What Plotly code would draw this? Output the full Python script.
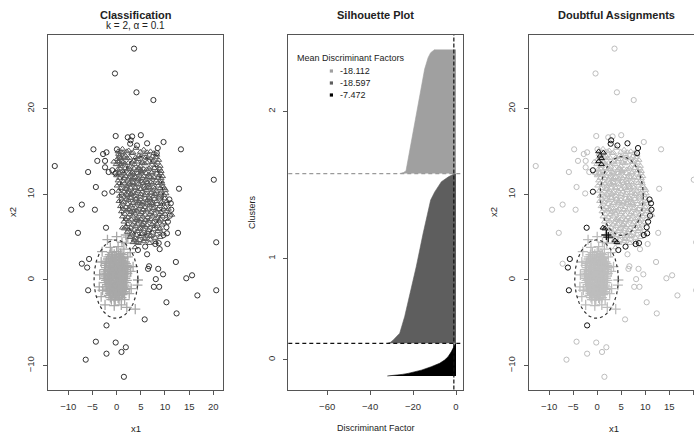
import numpy as np
import plotly.graph_objects as go

W, H = 694, 434

# ---------------- data ----------------
# Trimmed observations (circles, pch 1)
out_x = [3.6, -0.35, 4.1, 7.6, -0.2, 2.3, 3.2, 5.0, 9.7, 13.3, -4.8, 0.06, -2.8, -2.1, -4.0, -2.4,
         -12.8, -2.4, -5.9, -1.65, -0.2, -4.3, -2.5, -7.2, -9.4, -4.5, -8.0, 12.9, 20.1, 12.7, 20.6,
         -7.2, 6.7, 6.5, 8.6, 9.6, 8.1, 12.25, 7.7, 8.8, 14.4, 15.6, 20.6, 16.7, 10.3, 12.4, 5.8,
         -4.3, -0.2, 1.9, 1.0, -2.1, -6.4, 1.5, 6.3, 8.9, 10.5]
out_y = [27.0, 24.1, 21.9, 21.0, 16.8, 16.65, 16.75, 16.9, 16.1, 15.25, 15.25, 15.25, 14.7, 14.9, 13.9, 13.9,
         13.3, 13.15, 12.6, 12.6, 12.45, 10.85, 10.1, 8.8, 8.2, 8.2, 5.5, 10.65, 11.7, 5.5, 4.4,
         1.9, 1.6, 1.3, 1.3, 0.66, 0.1, 2.1, -0.8, -0.8, 0.2, 0.55, -1.2, -1.8, -2.6, -3.9, -4.6,
         -7.2, -7.3, -7.85, -8.4, -8.6, -9.3, -11.3, 3.0, 3.6, 4.2]
# Trimmed observations flagged as doubtful
outd_x = [2.9, 2.8, 4.2, 6.3, 8.5, 8.3, -0.9, -0.9, -2.2, -5.7, -6.1, -5.9, -2.1, 4.4, 5.9, 8.0, 8.7,
          9.7, 10.4, 10.9, 11.2, 11.3, 11.0, 10.6, 10.3]
outd_y = [16.3, 15.9, 15.7, 15.95, 15.4, 14.8, 12.8, 10.3, 6.1, 2.45, 1.45, -1.2, -5.3, 3.5, 3.9, 4.2, 4.3,
          5.25, 5.45, 9.4, 8.95, 8.2, 7.5, 6.8, 6.15]

# Cluster 1 (triangles)
c1_x = [1.2, 2.5, 4.0, 5.6, 7.0,
        0.4, 1.8, 3.1, 4.6, 5.9, 7.4, 8.3,
        0.1, 1.1, 2.2, 3.5, 4.4, 5.3, 6.4, 7.6, 8.7,
        -0.1, 0.8, 1.7, 2.8, 3.7, 4.9, 5.8, 6.9, 8.0, 9.0,
        0.2, 1.3, 2.3, 3.2, 4.2, 5.2, 6.2, 7.3, 8.4, 9.2,
        0.0, 0.9, 1.9, 2.8, 3.8, 4.7, 5.6, 6.6, 7.7, 8.8, 9.5,
        0.3, 1.4, 2.4, 3.3, 4.3, 5.2, 6.1, 7.1, 8.2, 9.3,
        0.1, 1.0, 2.0, 2.9, 3.8, 4.8, 5.7, 6.6, 7.6, 8.6, 9.6,
        0.4, 1.5, 2.5, 3.4, 4.4, 5.3, 6.2, 7.2, 8.2, 9.2, 10.1,
        0.6, 1.6, 2.2, 3.0, 3.9, 4.9, 5.8, 6.7, 7.7, 8.8, 9.8,
        0.5, 1.4, 2.4, 3.5, 4.5, 5.4, 6.3, 7.3, 8.3, 9.3, 10.4,
        0.8, 1.9, 2.9, 3.9, 4.9, 5.8, 6.8, 7.8, 8.9, 10.0,
        1.0, 2.0, 3.0, 4.1, 5.1, 6.1, 7.1, 8.1, 9.2, 10.2,
        1.2, 2.3, 3.3, 4.3, 5.4, 6.4, 7.4, 8.4, 9.5,
        1.5, 2.5, 3.6, 4.6, 5.6, 6.6, 7.6, 8.7, 9.8,
        1.8, 2.9, 3.9, 4.9, 5.9, 6.9, 7.9, 9.0,
        2.2, 3.3, 4.3, 5.3, 6.3, 7.4, 8.5, 9.4,
        2.8, 3.8, 4.8, 5.8, 6.9, 8.0, 9.0,
        3.4, 4.5, 5.6, 6.8, 8.1,
        3.0, 4.0, 5.0, 6.0, 4.6, 5.5, 3.6, 6.5, 4.2, 5.0, 3.2, 6.9, 2.7, 7.0, 4.5, 5.9, 2.0, 7.9,
        3.5, 6.2, 4.8, 5.4, 2.6, 7.4,
        -0.6, -0.4, 11.4, 3.8]
c1_y = [15.3, 15.1, 15.4, 15.2, 15.0,
        14.7, 14.5, 14.8, 14.5, 14.7, 14.4, 14.6,
        14.1, 13.9, 14.2, 13.9, 14.1, 13.8, 14.2, 13.9, 14.0,
        13.5, 13.3, 13.6, 13.2, 13.5, 13.3, 13.6, 13.2, 13.4, 13.3,
        12.9, 12.7, 12.9, 12.6, 12.8, 12.7, 12.9, 12.6, 12.8, 12.7,
        12.2, 12.3, 12.1, 12.3, 12.0, 12.3, 12.1, 12.3, 12.0, 12.2, 12.1,
        11.6, 11.5, 11.7, 11.4, 11.6, 11.5, 11.7, 11.4, 11.6, 11.5,
        11.0, 11.1, 10.9, 11.1, 10.8, 11.1, 10.9, 11.1, 10.8, 11.0, 10.9,
        10.4, 10.3, 10.5, 10.2, 10.4, 10.3, 10.5, 10.2, 10.4, 10.3, 10.5,
        9.8, 9.7, 9.9, 9.6, 9.8, 9.7, 9.9, 9.6, 9.8, 9.7, 9.9,
        9.2, 9.1, 9.3, 9.0, 9.2, 9.1, 9.3, 9.0, 9.2, 9.1, 9.2,
        8.6, 8.5, 8.7, 8.4, 8.6, 8.5, 8.7, 8.4, 8.6, 8.5,
        8.0, 8.1, 7.9, 8.1, 7.9, 8.1, 7.9, 8.1, 7.9, 8.0,
        7.4, 7.3, 7.5, 7.2, 7.4, 7.3, 7.5, 7.2, 7.4,
        6.8, 6.9, 6.7, 6.9, 6.7, 6.9, 6.7, 6.9, 6.7,
        6.2, 6.1, 6.3, 6.0, 6.2, 6.1, 6.3, 6.0,
        5.6, 5.5, 5.7, 5.4, 5.6, 5.5, 5.7, 5.4,
        5.0, 4.9, 5.1, 4.9, 5.1, 4.9, 5.0,
        4.4, 4.3, 4.5, 4.3, 4.4,
        10.0, 9.4, 10.6, 9.0, 11.8, 8.2, 8.0, 10.8, 7.0, 12.8, 11.8, 12.0, 8.2, 9.4, 13.0, 7.0, 10.6, 10.0,
        12.4, 11.4, 9.0, 6.4, 11.2, 8.8,
        13.8, 12.5, 7.6, 3.8]
# Cluster 1, further points of the dense core
c1b_x = [0.9, 2.1, 3.4, 4.9, 6.3, 7.7,
         0.6, 1.5, 2.7, 3.9, 5.0, 6.0, 7.0, 8.1,
         0.4, 1.3, 2.4, 3.2, 4.2, 5.3, 6.3, 7.4, 8.5,
         0.7, 1.8, 2.7, 3.6, 4.6, 5.6, 6.7, 7.8, 8.9,
         0.5, 1.4, 2.4, 3.3, 4.3, 5.1, 6.1, 7.2, 8.3, 9.1,
         0.6, 1.6, 2.5, 3.5, 4.4, 5.3, 6.3, 7.4, 8.5, 9.2,
         0.6, 1.6, 2.6, 3.5, 4.5, 5.5, 6.4, 7.4, 8.5, 9.4,
         0.8, 1.9, 2.9, 3.9, 4.9, 5.9, 6.9, 7.9, 9.0, 9.9,
         1.0, 2.0, 3.0, 4.0, 5.0, 6.0, 7.0, 8.0, 9.1, 10.2,
         1.0, 2.0, 2.9, 4.0, 4.9, 5.9, 6.8, 7.8, 8.8, 9.9,
         1.2, 2.3, 3.3, 4.3, 5.3, 6.3, 7.3, 8.4, 9.5, 10.5,
         1.4, 2.4, 3.4, 4.5, 5.5, 6.5, 7.5, 8.6, 9.7, 10.7,
         1.7, 2.7, 3.8, 4.8, 5.9, 6.9, 7.9, 8.9, 10.0,
         1.9, 3.0, 4.0, 5.0, 6.0, 7.0, 8.0, 9.1, 10.2,
         2.3, 3.3, 4.3, 5.3, 6.3, 7.3, 8.3, 9.4,
         2.5, 3.6, 4.6, 5.6, 6.6, 7.7, 8.8,
         3.0, 4.1, 5.1, 6.1, 7.1, 8.3,
         3.6, 4.7, 5.8, 7.0]
c1b_y = [14.9, 15.0, 14.85, 14.95, 14.9, 14.8,
         14.3, 14.35, 14.25, 14.3, 14.4, 14.3, 14.2, 14.3,
         13.7, 13.75, 13.65, 13.7, 13.8, 13.65, 13.7, 13.75, 13.7,
         13.0, 13.05, 12.95, 13.0, 13.1, 12.95, 13.0, 13.05, 13.0,
         12.45, 12.5, 12.4, 12.5, 12.45, 12.55, 12.45, 12.5, 12.4, 12.45,
         11.9, 11.85, 11.95, 11.9, 11.8, 11.9, 11.95, 11.85, 11.9, 11.85,
         11.3, 11.25, 11.35, 11.3, 11.2, 11.3, 11.35, 11.25, 11.3, 11.25,
         10.7, 10.65, 10.75, 10.7, 10.6, 10.7, 10.75, 10.65, 10.7, 10.7,
         10.1, 10.05, 10.15, 10.1, 10.0, 10.1, 10.15, 10.05, 10.1, 10.1,
         9.5, 9.45, 9.55, 9.5, 9.4, 9.5, 9.55, 9.45, 9.5, 9.5,
         8.9, 8.85, 8.95, 8.9, 8.8, 8.9, 8.95, 8.85, 8.9, 8.9,
         8.3, 8.25, 8.35, 8.3, 8.2, 8.3, 8.35, 8.25, 8.3, 8.3,
         7.7, 7.65, 7.75, 7.7, 7.6, 7.7, 7.75, 7.65, 7.7,
         7.1, 7.05, 7.15, 7.1, 7.0, 7.1, 7.15, 7.05, 7.1,
         6.5, 6.45, 6.55, 6.5, 6.4, 6.5, 6.55, 6.45,
         5.9, 5.85, 5.95, 5.9, 5.8, 5.9, 5.95,
         5.3, 5.25, 5.35, 5.3, 5.2, 5.3,
         4.7, 4.65, 4.75, 4.7]
c1d_x = [0.3, 0.6, 0.9, 0.3, 1.3, 0.9, 1.2, 1.6, 3.7, 4.1]
c1d_y = [15.0, 14.5, 14.2, 13.85, 14.85, 13.5, 6.1, 6.0, 4.6, 4.4]

# Cluster 2 (crosses)
c2_x = [-1.0, 0.0, 0.8,
        -1.7, -0.9, -0.1, 0.7, 1.4,
        -2.1, -1.3, -0.5, 0.3, 1.0, 1.7,
        -2.4, -1.6, -0.8, 0.0, 0.7, 1.5, 2.1,
        -2.5, -1.8, -1.1, -0.3, 0.4, 1.1, 1.8,
        -2.6, -1.9, -1.2, -0.5, 0.2, 0.9, 1.6, 2.2,
        -2.5, -1.7, -1.0, -0.3, 0.4, 1.1, 1.8,
        -2.4, -1.7, -1.0, -0.2, 0.5, 1.2, 1.9,
        -2.2, -1.5, -0.8, -0.1, 0.6, 1.3, 2.0,
        -2.0, -1.3, -0.6, 0.1, 0.8, 1.5,
        -1.6, -0.9, -0.2, 0.5, 1.2,
        -1.1, -0.3, 0.5,
        -1.4, -0.6, 0.2, 1.0, -1.0, -0.2, 0.6, -1.5, 0.3, -0.7, 1.3, -1.9, -0.4, 0.9, -1.2, 0.1,
        -1.9, 0.0, 0.3, 2.3, 1.5, 3.4, 4.4, 4.3, 3.0, -3.2, -3.6, -3.2, -3.5, 1.65, 0.96, 3.85,
        -0.5, -2.4, 2.6, -1.3, 2.9, -3.0, 1.1, 2.1, 2.8, -2.9, 2.0]
c2_y = [3.2, 3.3, 3.1,
        2.7, 2.8, 2.6, 2.75, 2.65,
        2.2, 2.15, 2.3, 2.2, 2.25, 2.1,
        1.7, 1.75, 1.65, 1.7, 1.8, 1.6, 1.7,
        1.2, 1.15, 1.25, 1.2, 1.1, 1.25, 1.2,
        0.7, 0.75, 0.65, 0.7, 0.8, 0.6, 0.7, 0.75,
        0.2, 0.25, 0.15, 0.2, 0.3, 0.1, 0.2,
        -0.3, -0.25, -0.35, -0.3, -0.2, -0.35, -0.3,
        -0.8, -0.75, -0.85, -0.8, -0.7, -0.85, -0.8,
        -1.3, -1.25, -1.35, -1.3, -1.2, -1.35,
        -1.8, -1.75, -1.85, -1.8, -1.7,
        -2.3, -2.35, -2.25,
        1.5, 1.4, 1.5, 1.4, 0.4, 0.5, 0.4, -0.5, -0.6, -1.0, 0.0, 0.0, 2.0, 1.9, -1.6, -1.5,
        4.7, 5.05, 3.9, 2.7, 3.6, 1.55, 0.0, -0.6, -1.0, -1.95, -0.8, 2.1, 0.6, -2.3, -2.9, -3.4,
        -3.0, -2.9, -1.6, 3.8, 1.0, 3.3, 4.4, -3.2, 3.2, -1.2, 4.3]
# Cluster 2, further points of the dense core
c2b_x = [-1.4, -0.5, 0.4, 1.1,
         -1.8, -1.0, -0.2, 0.6, 1.4,
         -2.2, -1.2, -0.4, 0.4, 1.2, 1.9,
         -2.2, -1.3, -0.6, 0.2, 0.9, 1.6, 2.3,
         -2.3, -1.5, -0.7, 0.0, 0.7, 1.4, 2.1,
         -2.3, -1.6, -0.8, -0.1, 0.6, 1.3, 2.0,
         -2.2, -1.4, -0.6, 0.1, 0.8, 1.5, 2.1,
         -2.0, -1.3, -0.5, 0.2, 0.9, 1.6,
         -1.8, -1.0, -0.3, 0.4, 1.1, 1.8,
         -1.4, -0.7, 0.0, 0.7, 1.4,
         -1.3, -0.5, 0.3, 1.0]
c2b_y = [2.95, 3.0, 2.9, 2.95,
         2.45, 2.5, 2.4, 2.45, 2.5,
         1.95, 2.0, 1.9, 1.95, 2.0, 1.9,
         1.45, 1.5, 1.4, 1.45, 1.5, 1.4, 1.45,
         0.95, 1.0, 0.9, 0.95, 1.0, 0.9, 0.95,
         0.45, 0.5, 0.4, 0.45, 0.5, 0.4, 0.45,
         -0.05, 0.0, -0.1, -0.05, 0.0, -0.1, -0.05,
         -0.55, -0.5, -0.6, -0.55, -0.5, -0.6,
         -1.05, -1.0, -1.1, -1.05, -1.0, -1.1,
         -1.55, -1.5, -1.6, -1.55, -1.5,
         -2.05, -2.0, -2.1, -2.05]
c2d_x = [1.9, 2.3]
c2d_y = [5.25, 5.0]

# Cluster ellipses: centre and semi-axes
ell_cx = [5.1, -0.15]
ell_cy = [9.8, 0.1]
ell_rx = [4.5, 4.55]
ell_ry = [4.6, 4.57]

# Silhouette plot: band sizes (outliers, cluster 1, cluster 2) and sorted discriminant-factor profiles
sil_counts = [100, 520, 380]
sil_frac = [
    [0, 0.02, 0.05, 0.08, 0.18, 0.285, 0.39, 0.49, 0.59, 0.74, 0.90, 1.0],
    [0, 0.006, 0.019, 0.06, 0.158, 0.256, 0.452, 0.648, 0.796, 0.844, 0.892, 0.952, 0.981, 0.996, 1.0],
    [0, 0.008, 0.021, 0.105, 0.263, 0.474, 0.684, 0.842, 0.934, 0.974, 0.992, 1.0],
]
sil_val = [
    [-32.0, -27.5, -25.0, -22.3, -16.1, -11.5, -7.6, -5.3, -3.7, -2.2, -0.9, -0.2],
    [-32.0, -30.5, -29.3, -26.2, -23.9, -22.0, -18.5, -15.3, -12.5, -11.8, -9.9, -6.8, -3.5, -1.5, -0.5],
    [-26.2, -24.5, -23.3, -22.4, -20.8, -18.6, -16.4, -14.6, -13.0, -11.8, -10.5, -9.8],
]
sil_colors = ["#000000", "#5e5e5e", "#a0a0a0"]
sil_ticktext = ["0", "1", "2"]
mean_df_text = ["-18.112", "-18.597", "-7.472"]
mean_df_colors = ["#a0a0a0", "#5e5e5e", "#000000"]
df_vline = -1.0

# ---------------- figure ----------------
FONT = "Liberation Sans, Arial, sans-serif"
TXT = "#222222"
fig = go.Figure()


def pts(x, y, sym, color, size, xa, ya, lw=1.0):
    fig.add_trace(go.Scatter(
        x=x, y=y, mode="markers", xaxis=xa, yaxis=ya, hoverinfo="skip", showlegend=False,
        marker=dict(symbol=sym, size=size, color=color, line=dict(color=color, width=lw))))


t = np.linspace(0, 2 * np.pi, 160)


def ellipse(k, xa, ya):
    ex = ell_cx[k] + ell_rx[k] * np.cos(t)
    ey = ell_cy[k] + ell_ry[k] * np.sin(t)
    fig.add_trace(go.Scatter(x=ex, y=ey, mode="lines", xaxis=xa, yaxis=ya, hoverinfo="skip",
                             showlegend=False, line=dict(color="#333333", width=1.2, dash="dot")))


C_OUT, C_C1, C_C2 = "#333333", "#5c5c5c", "#a8a8a8"
S_CIR, S_TRI, S_CRO = 5.2, 5.2, 7.2

c1_all_x, c1_all_y = c1_x + c1b_x, c1_y + c1b_y
c2_all_x, c2_all_y = c2_x + c2b_x, c2_y + c2b_y

# Panel 1: classification
pts(c2_all_x + c2d_x, c2_all_y + c2d_y, "cross-thin-open", C_C2, S_CRO, "x", "y", 1.3)
pts(c1_all_x + c1d_x, c1_all_y + c1d_y, "triangle-up-open", C_C1, S_TRI, "x", "y", 1.0)
pts(out_x + outd_x, out_y + outd_y, "circle-open", C_OUT, S_CIR, "x", "y", 1.0)
ellipse(0, "x", "y")
ellipse(1, "x", "y")

# Panel 2: silhouette
starts = np.concatenate([[0], np.cumsum(sil_counts)[:-1]])
for k in range(3):
    yy = starts[k] + np.array(sil_frac[k]) * sil_counts[k]
    fig.add_trace(go.Scatter(x=sil_val[k], y=yy, mode="lines", fill="tozerox", xaxis="x2", yaxis="y2",
                             fillcolor=sil_colors[k], line=dict(color=sil_colors[k], width=0.6),
                             hoverinfo="skip", showlegend=False))

# Panel 3: doubtful assignments
C_LIGHT, C_DARK = "#bdbdbd", "#111111"
pts(c2_all_x, c2_all_y, "cross-thin-open", C_LIGHT, S_CRO, "x3", "y3", 1.3)
pts(c1_all_x, c1_all_y, "triangle-up-open", C_LIGHT, S_TRI, "x3", "y3", 1.0)
pts(out_x, out_y, "circle-open", C_LIGHT, S_CIR, "x3", "y3", 1.0)
pts(c2d_x, c2d_y, "cross-thin-open", C_DARK, S_CRO, "x3", "y3", 1.3)
pts(c1d_x, c1d_y, "triangle-up-open", C_DARK, S_TRI, "x3", "y3", 1.0)
pts(outd_x, outd_y, "circle-open", C_DARK, S_CIR, "x3", "y3", 1.0)
ellipse(0, "x3", "y3")
ellipse(1, "x3", "y3")

# ---------------- layout ----------------
TOP, BOT = 35, 389.5
ydom = [1 - BOT / H, 1 - TOP / H]
axis_common = dict(showline=True, linecolor="#555555", linewidth=1, mirror=True, ticks="outside",
                   ticklen=4, tickcolor="#555555", showgrid=False, zeroline=False,
                   tickfont=dict(family=FONT, size=9.5, color="#333333"))

xt = [-10, -5, 0, 5, 10, 15, 20]
yt = [-10, 0, 10, 20]
band_centers = [starts[k] + sil_counts[k] / 2 for k in range(3)]
layout = dict(
    width=W, height=H, margin=dict(l=0, r=0, t=0, b=0),
    paper_bgcolor="white", plot_bgcolor="white", showlegend=False,
    xaxis=dict(domain=[48 / W, 223 / W], range=[-14.2, 22.0], tickvals=xt, anchor="y",
               ticklabelstandoff=4, **axis_common),
    yaxis=dict(domain=ydom, range=[-12.78, 28.59], tickvals=yt, tickangle=-90, anchor="x",
               ticklabelstandoff=5, **axis_common),
    xaxis2=dict(domain=[288.3 / W, 463.3 / W], range=[-78.1, 3.4], tickvals=[-60, -40, -20, 0],
                anchor="y2", ticklabelstandoff=4, **axis_common),
    yaxis2=dict(domain=ydom, range=[-41.3, 1044.4], tickvals=band_centers, ticktext=sil_ticktext,
                tickangle=-90, anchor="x2", ticklabelstandoff=5, **axis_common),
    xaxis3=dict(domain=[529 / W, 1.0], range=[-14.2, 20.15], tickvals=xt, anchor="y3",
                ticklabelstandoff=4, **axis_common),
    yaxis3=dict(domain=ydom, range=[-12.78, 28.59], tickvals=yt, tickangle=-90, anchor="x3",
                ticklabelstandoff=5, **{**axis_common, "mirror": False}),
)
fig.update_layout(**layout)

# dashed reference lines in silhouette plot
b1 = sil_counts[0]
b2 = sil_counts[0] + sil_counts[1]
fig.add_shape(type="line", xref="x2 domain", yref="y2", x0=0, x1=1, y0=b1, y1=b1,
              line=dict(color="#111111", width=1.2, dash="4px,3px"))
fig.add_shape(type="line", xref="x2 domain", yref="y2", x0=0, x1=1, y0=b2, y1=b2,
              line=dict(color="#9a9a9a", width=1.2, dash="4px,3px"))
fig.add_shape(type="line", xref="x2", yref="y2 domain", x0=df_vline, x1=df_vline, y0=0, y1=1,
              line=dict(color="#111111", width=1.2, dash="4px,2px"))


def ann(text, x, y, size, xanchor="center", angle=0, color=TXT):
    fig.add_annotation(text=text, x=x / W, y=1 - y / H, xref="paper", yref="paper", showarrow=False,
                       xanchor=xanchor, yanchor="middle", textangle=angle,
                       font=dict(family=FONT, size=size, color=color))


ann("<b>Classification</b>", 135.5, 14.5, 11)
ann("k = 2, α = 0.1", 135.5, 25.5, 10)
ann("<b>Silhouette Plot</b>", 376, 14.5, 11)
ann("<b>Doubtful Assignments</b>", 616.5, 14.5, 11)
ann("x1", 135.5, 428, 9.5)
ann("Discriminant Factor", 375.8, 428, 9)
ann("x1", 614, 428, 9.5)
ann("x2", 12, 212, 9.5, angle=-90)
ann("Clusters", 252, 212, 9, angle=-90)
ann("x2", 493, 212, 9.5, angle=-90)

# legend of mean discriminant factors
ann("Mean Discriminant Factors", 350.5, 58, 9)
for i, (txt, col) in enumerate(zip(mean_df_text, mean_df_colors)):
    yy = 71 + 12 * i
    ann(txt, 337.5, yy, 9, xanchor="left")
    fig.add_shape(type="rect", xref="paper", yref="paper",
                  x0=329.8 / W, x1=333.0 / W, y0=1 - (yy + 1.6) / H, y1=1 - (yy - 1.6) / H,
                  line=dict(width=0), fillcolor=col)

assert len(out_x) == len(out_y) and len(outd_x) == len(outd_y)
assert len(c1_x) == len(c1_y) and len(c2_x) == len(c2_y)
assert len(c1b_x) == len(c1b_y) and len(c2b_x) == len(c2b_y)

fig.write_html("out.html")
